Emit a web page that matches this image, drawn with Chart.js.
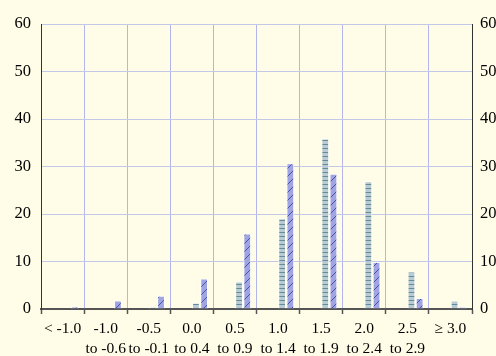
<!DOCTYPE html>
<html>
<head>
<meta charset="utf-8">
<script src="https://cdn.jsdelivr.net/npm/chart.js@4/dist/chart.umd.min.js"></script>
<style>
  html, body { margin: 0; padding: 0; background: #FFFDE8; }
  #wrap { width: 496px; height: 356px; }
</style>
</head>
<body>
<div id="wrap"><canvas id="c" width="496" height="356"></canvas></div>
<script>
// ---- data ----
const rangeStart = ['< -1.0', '-1.0', '-0.5', '0.0', '0.5', '1.0', '1.5', '2.0', '2.5', '\u2265 3.0'];
const rangeEnd   = ['', 'to -0.6', 'to -0.1', 'to 0.4', 'to 0.9', 'to 1.4', 'to 1.9', 'to 2.4', 'to 2.9', ''];
const seriesA = [0, 0, 0.4, 1.3, 5.8, 19.1, 35.9, 26.9, 7.9, 1.8];
const seriesB = [0.5, 1.8, 2.8, 6.4, 15.9, 30.7, 28.5, 9.9, 2.3, 0.4];
// two empty series occupy the first two slots of each group in the original
const emptySeries1 = [null, null, null, null, null, null, null, null, null, null];
const emptySeries2 = [null, null, null, null, null, null, null, null, null, null];
const yTicks = [0, 10, 20, 30, 40, 50, 60];

const labels = rangeStart.map((s, i) => [s, rangeEnd[i]]);

function makePatternA() {
  const c = document.createElement('canvas');
  c.width = 4; c.height = 4;
  const g = c.getContext('2d');
  g.fillStyle = '#B9CAD2';
  g.fillRect(0, 0, 4, 4);
  g.fillStyle = '#5F8D99';
  g.fillRect(0, 0, 4, 1);
  return g.createPattern(c, 'repeat');
}
function makePatternB() {
  const c = document.createElement('canvas');
  c.width = 8; c.height = 8;
  const g = c.getContext('2d');
  g.fillStyle = '#A0A5E2';
  g.fillRect(0, 0, 8, 8);
  g.strokeStyle = '#4353B6';
  g.lineWidth = 1;
  g.beginPath();
  g.moveTo(0, 8); g.lineTo(8, 0);
  g.stroke();
  return g.createPattern(c, 'repeat');
}

const bg = {
  id: 'bg',
  beforeDraw(chart) {
    const ctx = chart.ctx;
    ctx.save();
    ctx.fillStyle = '#FFFDE8';
    ctx.fillRect(0, 0, chart.width, chart.height);
    ctx.restore();
  }
};

const fam = '"Liberation Serif", "Times New Roman", serif';
const yFont = { family: fam, size: 16.5 };
const xFont = { family: fam, size: 15.5, lineHeight: 1.28 };

new Chart(document.getElementById('c'), {
  type: 'bar',
  data: {
    labels: labels,
    datasets: [
      { label: '', data: emptySeries1, backgroundColor: 'rgba(0,0,0,0)' },
      { label: '', data: emptySeries2, backgroundColor: 'rgba(0,0,0,0)' },
      { label: 'A', data: seriesA, backgroundColor: makePatternA(),
        borderColor: 'rgba(255,255,255,0.75)', borderWidth: 1 },
      { label: 'B', data: seriesB, backgroundColor: makePatternB(),
        borderColor: 'rgba(255,255,255,0.75)', borderWidth: 1 }
    ]
  },
  options: {
    responsive: false,
    animation: false,
    devicePixelRatio: 1,
    categoryPercentage: 0.76,
    barPercentage: 0.95,
    layout: { padding: { top: 24, left: 0, right: 0, bottom: 0 } },
    plugins: { legend: { display: false }, tooltip: { enabled: false } },
    scales: {
      x: {
        offset: true,
        grid: { offset: true, color: 'rgb(178,182,236)', lineWidth: 1,
                tickColor: '#555', tickLength: 5, tickWidth: 1.5 },
        border: { color: '#555', width: 2 },
        ticks: { autoSkip: false, maxRotation: 0, minRotation: 0, color: '#000',
                 padding: 5, font: xFont },
        afterFit(s) { s.height = 47; }
      },
      y: {
        position: 'left',
        min: 0, max: 60,
        afterBuildTicks(s) { s.ticks = yTicks.map(v => ({ value: v })); },
        grid: { color: 'rgb(196,200,232)', lineWidth: 1, drawTicks: false },
        border: { color: '#333', width: 1 },
        ticks: { color: '#000', padding: 10, font: yFont },
        afterFit(s) { s.width = 41; }
      },
      y2: {
        position: 'right',
        min: 0, max: 60,
        afterBuildTicks(s) { s.ticks = yTicks.map(v => ({ value: v })); },
        grid: { drawOnChartArea: false, drawTicks: false },
        border: { color: '#333', width: 1 },
        ticks: { color: '#000', padding: 8, font: yFont },
        afterFit(s) { s.width = 24; }
      }
    }
  },
  plugins: [bg]
});
</script>
</body>
</html>
